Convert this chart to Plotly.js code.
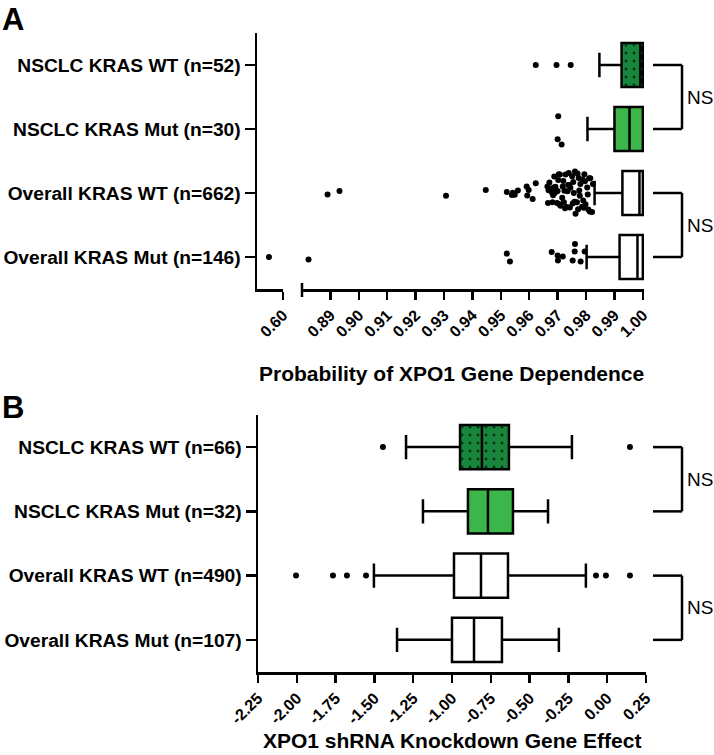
<!DOCTYPE html>
<html>
<head>
<meta charset="utf-8">
<script src="https://cdn.plot.ly/plotly-3.0.1.min.js"></script>
<style>html,body{margin:0;padding:0;background:#fff;}#chart{width:714px;height:755px;}</style>
</head>
<body>
<div id="chart"></div>
<script>
// ---------- Data ----------
const groupsA = ['NSCLC KRAS WT (n=52)', 'NSCLC KRAS Mut (n=30)', 'Overall KRAS WT (n=662)', 'Overall KRAS Mut (n=146)'];
const groupsB = ['NSCLC KRAS WT (n=66)', 'NSCLC KRAS Mut (n=32)', 'Overall KRAS WT (n=490)', 'Overall KRAS Mut (n=107)'];
const fills = ['#18873c', '#3cb64a', '#ffffff', '#ffffff'];
const dotted = [true, false, false, false];

// Panel A: probability of XPO1 gene dependence
const aLowerFence = [0.9847, 0.9805, 0.9830, 0.9802];
const aQ1         = [0.9925, 0.9900, 0.9928, 0.9918];
const aMedian     = [0.9991, 0.9953, 0.9988, 0.9981];
const aQ3         = [1.0000, 1.0000, 1.0000, 1.0000];
const aUpperFence = [1.0000, 1.0000, 1.0000, 1.0000];
const aOutliers = [
  [0.9623, 0.9696, 0.9746],
  [0.9700, 0.9702, 0.9714],
  [0.8890, 0.8932, 0.9307, 0.9447,
   0.9521, 0.9539, 0.9542, 0.9549, 0.9560, 0.9591, 0.9593, 0.9598, 0.9612, 0.9623,
   0.9664, 0.9666, 0.9668, 0.9671, 0.9673, 0.9680, 0.9682, 0.9684, 0.9686, 0.9688, 0.9690, 0.9692,
   0.9698, 0.9700, 0.9702, 0.9704, 0.9706, 0.9708, 0.9710, 0.9716, 0.9718, 0.9720, 0.9722,
   0.9724, 0.9726, 0.9728, 0.9733, 0.9735, 0.9737, 0.9739, 0.9741, 0.9743, 0.9745,
   0.9751, 0.9753, 0.9755, 0.9757, 0.9759, 0.9761, 0.9763, 0.9768, 0.9770, 0.9772, 0.9774,
   0.9776, 0.9778, 0.9780, 0.9786, 0.9788, 0.9790, 0.9792, 0.9794, 0.9796, 0.9798,
   0.9804, 0.9806, 0.9808, 0.9811, 0.9813, 0.9815, 0.9821, 0.9824],
  [0.8823, 0.9521, 0.9532, 0.9679, 0.9700, 0.9701, 0.9718, 0.9753, 0.9760, 0.9761, 0.9781, 0.9795]
];
const aBrokenOutliers = [null, null, null, 0.5892];   // values on the broken (left) segment
const aLeftTicks = [0.60];
const aRightTicks = [0.89, 0.90, 0.91, 0.92, 0.93, 0.94, 0.95, 0.96, 0.97, 0.98, 0.99, 1.00];

// Panel B: XPO1 shRNA knockdown gene effect
const bLowerFence = [-1.296, -1.187, -1.503, -1.354];
const bQ1         = [-0.948, -0.897, -0.987, -1.000];
const bMedian     = [-0.807, -0.768, -0.813, -0.858];
const bQ3         = [-0.633, -0.607, -0.639, -0.678];
const bUpperFence = [-0.227, -0.381, -0.137, -0.311];
const bOutliers = [
  [-1.445, 0.147],
  [],
  [-2.005, -1.767, -1.677, -1.554, -0.072, -0.008, 0.147],
  []
];
const bTicks = [-2.25, -2.00, -1.75, -1.50, -1.25, -1.00, -0.75, -0.50, -0.25, 0.00, 0.25];

const sigLabel = 'NS';
const titleA = 'Probability of XPO1 Gene Dependence';
const titleB = 'XPO1 shRNA Knockdown Gene Effect';

// ---------- Helpers ----------
const W = 714, H = 755;
const px = v => v / W;
const py = v => 1 - v / H;
const LW = 2.5;
const BOXW = 0.69;
const idx = arr => arr.map((_, i) => i);
const traces = [];

function addPanel(groups, q1, med, q3, lf, uf, outl, xa, ya, jit) {
  groups.forEach((g, i) => {
    const t = {
      type: 'box', orientation: 'h', xaxis: xa, yaxis: ya,
      y: [i],
      q1: [q1[i]], median: [med[i]], q3: [q3[i]],
      lowerfence: [lf[i]], upperfence: [uf[i]],
      boxpoints: 'outliers', jitter: jit[i], pointpos: 0,
      marker: {color: '#000', size: 6, line: {width: 0}},
      fillcolor: fills[i], line: {color: '#000', width: LW},
      width: BOXW, whiskerwidth: 0.55, showlegend: false, hoverinfo: 'skip'
    };
    if (outl[i].length) t.x = [outl[i]];
    traces.push(t);
    if (dotted[i]) {
      // dotted texture over the interquartile box
      traces.push({
        type: 'scatter', mode: 'lines', xaxis: xa, yaxis: ya,
        x: [q1[i], q3[i], q3[i], q1[i], q1[i]],
        y: [i - BOXW / 2, i - BOXW / 2, i + BOXW / 2, i + BOXW / 2, i - BOXW / 2],
        fill: 'toself', fillcolor: 'rgba(0,0,0,0)', line: {width: 0},
        fillpattern: {shape: '.', fgcolor: '#06301a', bgcolor: 'rgba(0,0,0,0)', size: 8, solidity: 0.1},
        showlegend: false, hoverinfo: 'skip'
      });
    }
  });
}

addPanel(groupsA, aQ1, aMedian, aQ3, aLowerFence, aUpperFence, aOutliers, 'x2', 'y', [0, 0.9, 1.0, 0.8]);
groupsA.forEach((g, i) => {
  if (aBrokenOutliers[i] !== null) {
    traces.push({
      type: 'scatter', mode: 'markers', xaxis: 'x', yaxis: 'y',
      x: [aBrokenOutliers[i]], y: [i], cliponaxis: false,
      marker: {color: '#000', size: 6}, showlegend: false, hoverinfo: 'skip'
    });
  }
});
addPanel(groupsB, bQ1, bMedian, bQ3, bLowerFence, bUpperFence, bOutliers, 'x3', 'y2', [0, 0, 0, 0]);

// ---------- Layout ----------
const FAM = 'Arial, Liberation Sans, sans-serif';
const tickFont = {family: FAM, size: 16, color: '#000'};
const catFont = {family: FAM, size: 19.2, color: '#000'};
const bold = s => '<b>' + s + '</b>';
const fmt = v => bold(v.toFixed(2));
const baseX = {
  showline: true, linewidth: LW, linecolor: '#000', ticks: 'outside', ticklen: 8, tickwidth: LW,
  tickcolor: '#000', showgrid: false, zeroline: false, tickangle: -45, tickfont: tickFont,
  tickmode: 'array', fixedrange: true
};
const baseY = {
  type: 'linear', showline: true, linewidth: LW, linecolor: '#000', ticks: 'outside', ticklen: 10,
  tickwidth: LW, tickcolor: '#000', showgrid: false, zeroline: false, tickfont: catFont,
  range: [3.5, -0.5], fixedrange: true, tickmode: 'array'
};

const bx0 = px(653), bx1 = px(682);
function bracket(yref, a, b) {
  return [
    {type: 'line', xref: 'paper', yref: yref, x0: bx0, x1: bx1, y0: a, y1: a, line: {color: '#000', width: LW}},
    {type: 'line', xref: 'paper', yref: yref, x0: bx1, x1: bx1, y0: a, y1: b, line: {color: '#000', width: LW}},
    {type: 'line', xref: 'paper', yref: yref, x0: bx0, x1: bx1, y0: b, y1: b, line: {color: '#000', width: LW}}
  ];
}
const shapes = [].concat(
  bracket('y', 0, 1), bracket('y', 2, 3),
  bracket('y2', 0, 1), bracket('y2', 2, 3),
  [{type: 'line', xref: 'paper', yref: 'paper', x0: px(302), x1: px(302), y0: py(283), y1: py(297), line: {color: '#000', width: LW}}]
);

const nsFont = {family: FAM, size: 19, color: '#000'};
const titleFont = {family: FAM, size: 21, color: '#000', weight: 'bold'};
const letterFont = {family: FAM, size: 31, color: '#000', weight: 'bold'};
const annotations = [
  {xref: 'paper', yref: 'y', x: px(685), y: 0.5, text: sigLabel, showarrow: false, xanchor: 'left', yanchor: 'middle', font: nsFont},
  {xref: 'paper', yref: 'y', x: px(685), y: 2.5, text: sigLabel, showarrow: false, xanchor: 'left', yanchor: 'middle', font: nsFont},
  {xref: 'paper', yref: 'y2', x: px(685), y: 0.5, text: sigLabel, showarrow: false, xanchor: 'left', yanchor: 'middle', font: nsFont},
  {xref: 'paper', yref: 'y2', x: px(685), y: 2.5, text: sigLabel, showarrow: false, xanchor: 'left', yanchor: 'middle', font: nsFont},
  {xref: 'paper', yref: 'paper', x: px(451), y: py(373), text: bold(titleA), showarrow: false, xanchor: 'center', yanchor: 'middle', font: titleFont},
  {xref: 'paper', yref: 'paper', x: px(452), y: py(740), text: bold(titleB), showarrow: false, xanchor: 'center', yanchor: 'middle', font: titleFont},
  {xref: 'paper', yref: 'paper', x: px(0), y: py(0), text: bold('A'), showarrow: false, xanchor: 'left', yanchor: 'top', font: letterFont},
  {xref: 'paper', yref: 'paper', x: px(0), y: py(388), text: bold('B'), showarrow: false, xanchor: 'left', yanchor: 'top', font: letterFont}
];

const layout = {
  width: W, height: H, margin: {l: 0, r: 0, t: 0, b: 0},
  paper_bgcolor: '#fff', plot_bgcolor: 'rgba(0,0,0,0)', showlegend: false, boxmode: 'overlay',
  xaxis: Object.assign({}, baseX, {domain: [px(257), px(283)], range: [0.58, 0.60], anchor: 'y', tickvals: aLeftTicks, ticktext: aLeftTicks.map(fmt)}),
  xaxis2: Object.assign({}, baseX, {domain: [px(302), px(644)], range: [0.88, 1.0004], anchor: 'y', tickvals: aRightTicks, ticktext: aRightTicks.map(fmt)}),
  xaxis3: Object.assign({}, baseX, {domain: [px(258), px(646)], range: [-2.25, 0.2504], anchor: 'y2', tickvals: bTicks, ticktext: bTicks.map(fmt)}),
  yaxis: Object.assign({}, baseY, {domain: [py(289), py(33)], anchor: 'x', tickvals: idx(groupsA), ticktext: groupsA.map(bold)}),
  yaxis2: Object.assign({}, baseY, {domain: [py(672), py(415)], anchor: 'x3', tickvals: idx(groupsB), ticktext: groupsB.map(bold)}),
  shapes: shapes, annotations: annotations
};

Plotly.newPlot('chart', traces, layout, {staticPlot: true, displayModeBar: false});
</script>
</body>
</html>
